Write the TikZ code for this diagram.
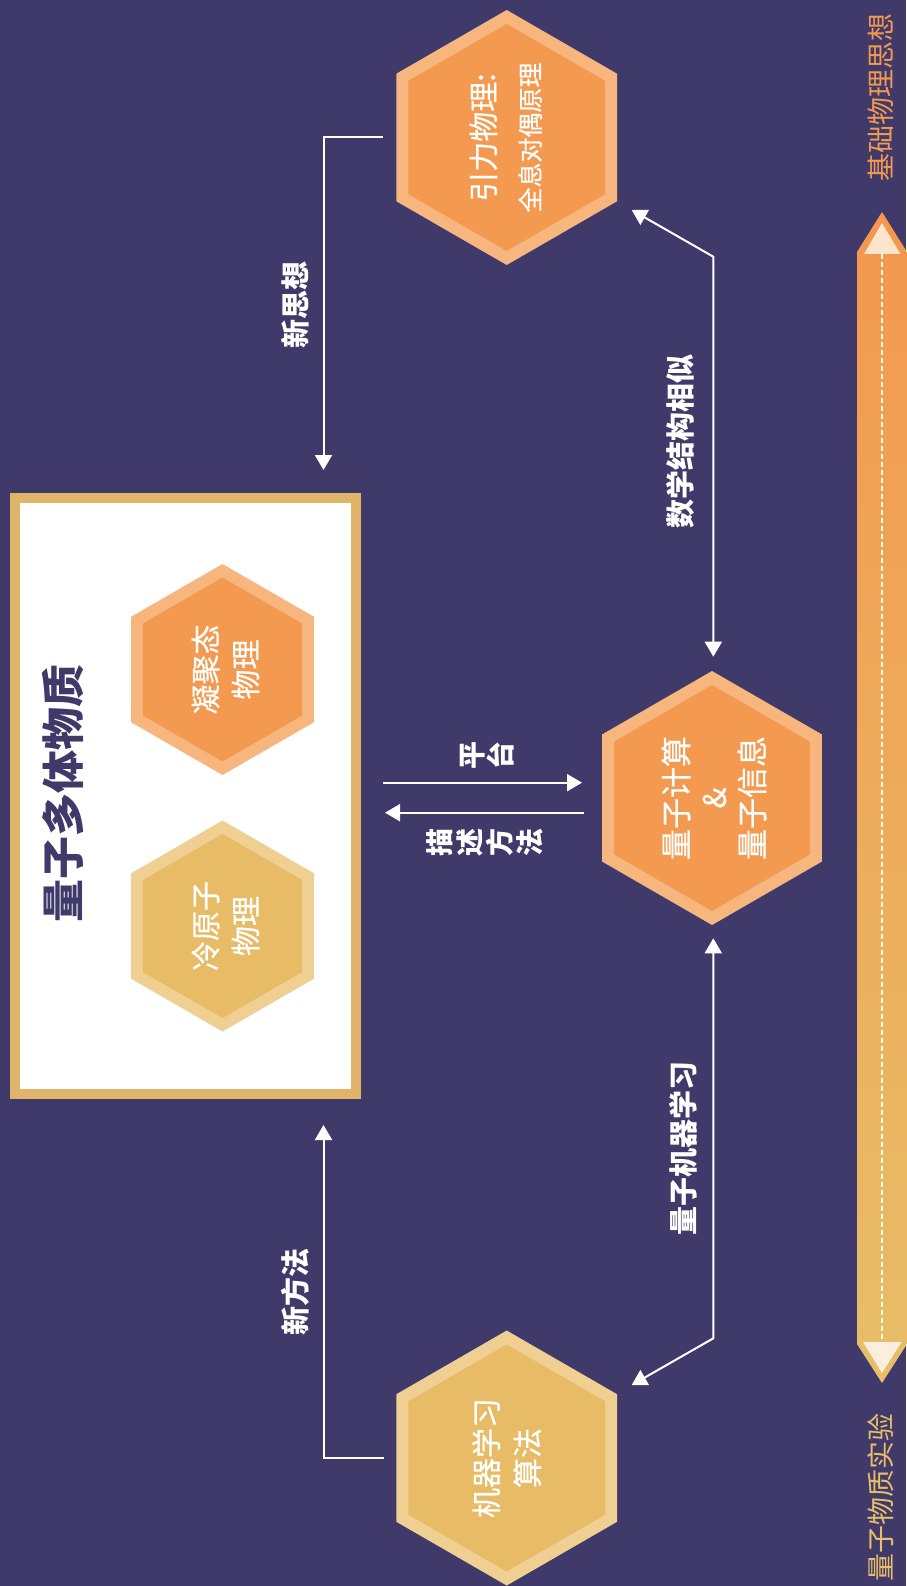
\documentclass[tikz,border=0pt]{standalone}
\usepackage{fontspec}
\setmainfont{Noto Sans CJK SC}
\newfontfamily\hexfont{Noto Sans CJK SC}[FakeBold=0.5]
\usetikzlibrary{arrows.meta}
\definecolor{bg}{RGB}{64,58,107}
\definecolor{ofill}{RGB}{243,154,80}
\definecolor{oborder}{RGB}{247,182,126}
\definecolor{yfill}{RGB}{232,187,103}
\definecolor{yborder}{RGB}{239,207,146}
\definecolor{gold}{RGB}{224,181,105}
\definecolor{barorange}{RGB}{243,152,78}
\definecolor{baryellow}{RGB}{232,190,104}
\definecolor{tiptop}{RGB}{253,228,204}
\definecolor{tipbot}{RGB}{250,238,220}
\newcommand\hexshape[5]{%
  \fill[#4,shift={(#1)}] (90:#2) -- (30:#2) -- (-30:#2) -- (-90:#2) -- (-150:#2) -- (150:#2) -- cycle;
  \fill[#5,shift={(#1)}] (90:#3) -- (30:#3) -- (-30:#3) -- (-90:#3) -- (-150:#3) -- (150:#3) -- cycle;}
\tikzset{
  hexlabel/.style={rotate=90, align=center, text=white, inner sep=0pt},
  arrlabel/.style={rotate=90, align=center, text=white, inner sep=0pt, font=\fontsize{29}{30}\selectfont\bfseries},
  sidelabel/.style={rotate=90, inner sep=0pt, font=\fontsize{28}{28}\selectfont},
  conn/.style={white, line width=2pt, -{Triangle[length=15pt,width=17pt]}},
  dconn/.style={white, line width=2pt, {Triangle[length=15pt,width=17pt]}-{Triangle[length=15pt,width=17pt]}}
}
\begin{document}
\begin{tikzpicture}[x=1pt,y=-1pt]
\useasboundingbox (0,0) rectangle (906,1586);
\fill[bg] (0,0) rectangle (906,1586);

% box
\fill[gold] (10,493) rectangle (361,1099);
\fill[white] (20,503) rectangle (351,1089);
\node[rotate=90, text=bg, inner sep=0pt, font=\fontsize{43}{43}\selectfont\bfseries] (title) at (62.5,793) {量子多体物质};

% hexagon centres
\coordinate (gr) at (506.7,137.5);
\coordinate (qc) at (712,798);
\coordinate (ml) at (506.7,1458);
\coordinate (cm) at (222.5,669.5);
\coordinate (ca) at (222.5,926);

\hexshape{gr}{127.5}{113.5}{oborder}{ofill}
\hexshape{qc}{127}{113}{oborder}{ofill}
\hexshape{ml}{127.5}{113.5}{yborder}{yfill}
\hexshape{cm}{105.5}{92}{oborder}{ofill}
\hexshape{ca}{105.5}{92}{yborder}{yfill}

\node[hexlabel, font=\hexfont\fontsize{30}{45}\selectfont] (grT) at ([xshift=-1pt]gr) {引力物理:\\{\fontsize{25}{45}\selectfont 全息对偶原理}};
\node[hexlabel, font=\hexfont\fontsize{31}{38}\selectfont] (qcT) at ([xshift=2pt]qc) {量子计算\\\&\\量子信息};
\node[hexlabel, font=\hexfont\fontsize{30}{41}\selectfont] (mlT) at (ml) {机器学习\\算法};
\node[hexlabel, font=\hexfont\fontsize{30}{40}\selectfont] (cmT) at ([xshift=3pt]cm) {凝聚态\\物理};
\node[hexlabel, font=\hexfont\fontsize{30}{40}\selectfont] (caT) at ([xshift=3pt]ca) {冷原子\\物理};

% side bar
\shade[top color=barorange, bottom color=baryellow] (857,252) -- (882,212) -- (907,252) -- (907,1344) -- (882,1383) -- (857,1344) -- cycle;
\fill[tiptop] (882,223) -- (900.5,254) -- (864,254) -- cycle;
\fill[tipbot] (863,1342) -- (901.5,1342) -- (882,1373) -- cycle;
\coordinate (bart) at (882,254);
\coordinate (barb) at (882,1342);
\draw[white!90!yellow, line width=2pt, dash pattern=on 5pt off 3pt] (bart) -- (barb);
\node[sidelabel, text=barorange] (topL) at (880.5,98) {基础物理思想};
\node[sidelabel, text=baryellow] (botL) at (880.5,1497.5) {量子物质实验};

% connectors
\coordinate (a1s) at (383,137.5);
\coordinate (a1e) at (323.5,470);
\draw[conn] (a1s) -| (a1e);
\node[arrlabel] (l1) at (295,305) {新思想};

\coordinate (a2s) at (384,1458);
\coordinate (a2e) at (323.5,1125);
\draw[conn] (a2s) -| (a2e);
\node[arrlabel] (l2) at (295,1292) {新方法};

\coordinate (a3a) at (631.7,210);
\coordinate (a3m) at (713.3,256.7);
\coordinate (a3b) at (713.3,656.7);
\draw[dconn] (a3a) -- (a3m) -- (a3b);
\node[arrlabel] (l3) at (680,441) {数学结构相似};

\coordinate (a4a) at (713.3,938.3);
\coordinate (a4m) at (713.3,1338.3);
\coordinate (a4b) at (631.7,1385);
\draw[dconn] (a4a) -- (a4m) -- (a4b);
\node[arrlabel] (l4) at (683,1148) {量子机器学习};

\coordinate (a5s) at (383,782.7);
\coordinate (a5e) at (582,782.7);
\draw[conn] (a5s) -- (a5e);
\node[arrlabel, font=\fontsize{28}{29}\selectfont\bfseries] (l5) at (486.7,755) {平\\台};

\coordinate (a6s) at (584,812.7);
\coordinate (a6e) at (385,812.7);
\draw[conn] (a6s) -- (a6e);
\node[arrlabel, font=\fontsize{28}{30}\selectfont\bfseries] (l6) at (485,842.5) {描\\述\\方\\法};
\end{tikzpicture}
\end{document}
